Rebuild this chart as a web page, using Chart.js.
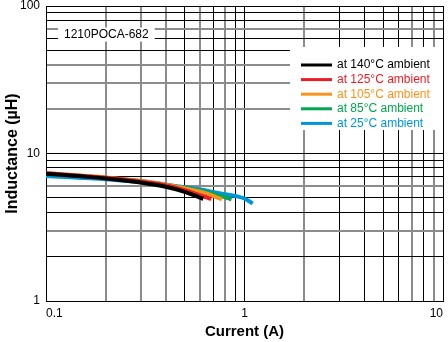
<!DOCTYPE html>
<html>
<head>
<meta charset="utf-8">
<script src="https://cdn.jsdelivr.net/npm/chart.js@4"></script>
<style>
  html, body { margin: 0; padding: 0; background: #fff; }
  #wrap { width: 448px; height: 342px; position: relative; }
</style>
</head>
<body>
<div id="wrap"><canvas id="myChart"></canvas></div>
<script>
// tick positions (log grid) and which of them get a label
var xTicks = [0.1, 0.2, 0.3, 0.4, 0.5, 0.6, 0.7, 0.8, 0.9, 1, 2, 3, 4, 5, 6, 7, 8, 9, 10];
var yTicks = [1, 2, 3, 4, 5, 6, 7, 8, 9, 10, 20, 30, 40, 50, 60, 70, 80, 90, 100];
var xLabelTicks = [0.1, 1, 10];
var yLabelTicks = [1, 10, 100];

// series: current (A) and inductance (uH)
var i140 = [0.1, 0.15, 0.2, 0.3, 0.4, 0.5, 0.55, 0.6, 0.62];
var l140 = [7.3, 7.0, 6.78, 6.35, 5.95, 5.5, 5.25, 5.0, 4.93];
var i125 = [0.1, 0.2, 0.3, 0.4, 0.5, 0.6, 0.65, 0.68];
var l125 = [7.35, 6.85, 6.45, 6.1, 5.65, 5.2, 5.02, 4.9];
var i105 = [0.1, 0.2, 0.3, 0.4, 0.5, 0.6, 0.7, 0.77];
var l105 = [7.35, 6.87, 6.5, 6.15, 5.8, 5.5, 5.15, 4.88];
var i85 = [0.1, 0.2, 0.3, 0.4, 0.5, 0.6, 0.7, 0.8, 0.86];
var l85 = [7.3, 6.85, 6.5, 6.15, 5.85, 5.6, 5.3, 5.05, 4.88];
var i25 = [0.1, 0.2, 0.3, 0.4, 0.5, 0.6, 0.7, 0.8, 0.9, 1.0, 1.1];
var l25 = [7.05, 6.7, 6.4, 6.15, 5.9, 5.7, 5.47, 5.3, 5.15, 4.95, 4.58];

var seriesNames = ["at 140°C ambient", "at 125°C ambient", "at 105°C ambient", "at 85°C ambient", "at 25°C ambient"];
var seriesColors = ["#000000", "#ed1c24", "#f7941d", "#00a651", "#0096da"];
var partLabel = "1210POCA-682";

// grid lines that look soft grey in the original
var xGrey = [0.2, 0.3, 0.4, 0.6, 0.8, 2, 7, 9];
var yGrey = [3, 6, 20, 30, 40, 70];

function zip(xs, ys) {
  return xs.map(function (x, i) { return { x: x, y: ys[i] }; });
}

var allX = [i140, i125, i105, i85, i25];
var allY = [l140, l125, l105, l85, l25];

var datasets = seriesNames.map(function (name, k) {
  return {
    label: name,
    data: zip(allX[k], allY[k]),
    borderColor: seriesColors[k],
    backgroundColor: seriesColors[k],
    borderWidth: 4,
    pointRadius: 0,
    fill: false,
    cubicInterpolationMode: "monotone",
    borderCapStyle: "butt"
  };
});

var FONT = "'Liberation Sans', Arial, sans-serif";

// legend box + part number label inside the plot
var insidePlugin = {
  id: "inside",
  afterDraw: function (chart) {
    var ctx = chart.ctx;
    var area = chart.chartArea;
    var ys = chart.scales.y;
    ctx.save();

    // part number
    ctx.font = "12px " + FONT;
    var ly = ys.getPixelForValue(64);
    var tw = ctx.measureText(partLabel).width;
    ctx.fillStyle = "#fff";
    ctx.fillRect(area.left + 12, ly - 7, tw + 12, 14);
    ctx.fillStyle = "#000";
    ctx.textBaseline = "middle";
    ctx.fillText(partLabel, area.left + 18, ly);

    // legend
    ctx.fillStyle = "#fff";
    ctx.fillRect(290, 47, area.right - 290, 83);
    for (var k = 0; k < seriesNames.length; k++) {
      var yy = 65 + k * 14.6;
      ctx.strokeStyle = seriesColors[k];
      ctx.lineWidth = 3;
      ctx.beginPath();
      ctx.moveTo(301, yy);
      ctx.lineTo(332, yy);
      ctx.stroke();
      ctx.fillStyle = seriesColors[k];
      ctx.fillText(seriesNames[k], 337, yy);
    }
    ctx.restore();
  }
};

function gridColor(greyList) {
  return function (c) {
    return greyList.indexOf(c.tick.value) >= 0 ? "#8c8c8c" : "#000";
  };
}
function gridWidth(greyList) {
  return function (c) {
    return greyList.indexOf(c.tick.value) >= 0 ? 2 : 1;
  };
}

var ctx = document.getElementById("myChart");
var myChart = new Chart(ctx, {
  type: "line",
  data: { datasets: datasets },
  plugins: [insidePlugin],
  options: {
    responsive: true,
    maintainAspectRatio: false,
    animation: false,
    layout: { padding: { top: 6, right: 2, left: 0, bottom: 0 } },
    plugins: {
      legend: { display: false },
      tooltip: { enabled: false }
    },
    scales: {
      x: {
        type: "logarithmic",
        min: 0.1,
        max: 10,
        afterBuildTicks: function (scale) {
          scale.ticks = xTicks.map(function (v) { return { value: v }; });
        },
        afterFit: function (scale) { scale.height = 41; },
        grid: { color: gridColor(xGrey), lineWidth: gridWidth(xGrey), drawTicks: false },
        border: { color: "#000", width: 1 },
        ticks: {
          autoSkip: false,
          maxRotation: 0,
          align: "inner",
          padding: 5,
          color: "#000",
          font: { family: FONT, size: 12 },
          callback: function (v) { return xLabelTicks.indexOf(v) >= 0 ? String(v) : ""; }
        },
        title: {
          display: true,
          text: "Current (A)",
          color: "#000",
          font: { family: FONT, size: 15, weight: "bold" },
          padding: { top: 2, bottom: 1 }
        }
      },
      y: {
        type: "logarithmic",
        min: 1,
        max: 100,
        afterBuildTicks: function (scale) {
          scale.ticks = yTicks.map(function (v) { return { value: v }; });
        },
        afterFit: function (scale) {
          scale.width = 46;
          scale.paddingTop = 0;
          scale.paddingBottom = 0;
        },
        grid: { color: gridColor(yGrey), lineWidth: gridWidth(yGrey), drawTicks: false },
        border: { color: "#000", width: 1 },
        ticks: {
          autoSkip: false,
          padding: 6,
          color: "#000",
          font: { family: FONT, size: 12, lineHeight: 1 },
          callback: function (v) { return yLabelTicks.indexOf(v) >= 0 ? String(v) : ""; }
        },
        title: {
          display: true,
          text: "Inductance (µH)",
          color: "#000",
          font: { family: FONT, size: 16, weight: "bold" },
          padding: { top: 3, bottom: 2 }
        }
      }
    }
  }
});
</script>
</body>
</html>
